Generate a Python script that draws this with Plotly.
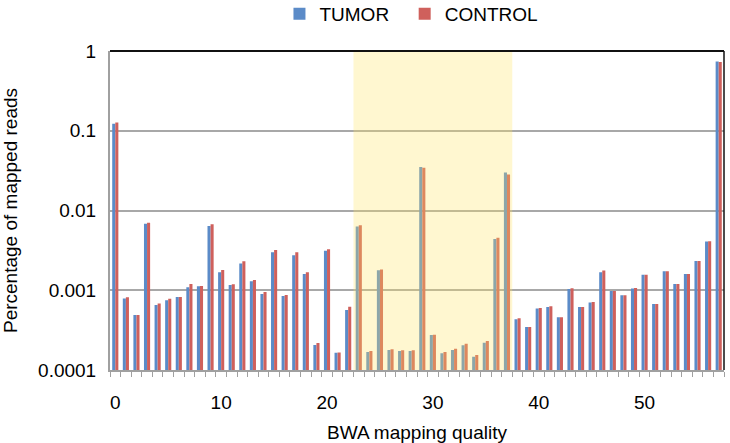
import plotly.graph_objects as go

quality = list(range(58))
tumor = [0.122, 0.000786, 0.00049, 0.0068, 0.000655, 0.00075, 0.00082, 0.00109, 0.00112, 0.0064,
         0.00168, 0.00116, 0.00216, 0.0013, 0.0009, 0.0030, 0.00085, 0.00275, 0.0016, 0.000206,
         0.00312, 0.000165, 0.000566, 0.0063, 0.000168, 0.00178, 0.000178, 0.000173, 0.000173, 0.035,
         0.000275, 0.000162, 0.000178, 0.000204, 0.000147, 0.00022, 0.0044, 0.030, 0.000432, 0.000347,
         0.00059, 0.000618, 0.000458, 0.00104, 0.000618, 0.0007, 0.00168, 0.00098, 0.000865, 0.00105,
         0.00156, 0.00067, 0.00173, 0.0012, 0.0016, 0.00233, 0.00408, 0.741]
control = [0.127, 0.000816, 0.00049, 0.0070, 0.00068, 0.00078, 0.00082, 0.0012, 0.00113, 0.0067,
           0.0018, 0.00119, 0.00231, 0.00134, 0.00095, 0.0032, 0.00087, 0.0030, 0.00168, 0.000218,
           0.00327, 0.000166, 0.000623, 0.00655, 0.000173, 0.00182, 0.000182, 0.000177, 0.000177, 0.0343,
           0.000276, 0.000168, 0.000185, 0.000214, 0.000154, 0.000231, 0.00454, 0.0283, 0.000446, 0.000347,
           0.0006, 0.00063, 0.000458, 0.00106, 0.000618, 0.000714, 0.00177, 0.00098, 0.000865, 0.00107,
           0.00157, 0.00067, 0.00173, 0.0012, 0.0016, 0.00233, 0.00412, 0.728]
x_ticks = [0, 10, 20, 30, 40, 50]
y_ticks = [0.0001, 0.001, 0.01, 0.1, 1]
y_tick_text = ["0.0001", "0.001", "0.01", "0.1", "1"]
highlight = (22.5, 37.5)

FONT = "Liberation Sans, Arial, sans-serif"

fig = go.Figure()
fig.add_trace(go.Bar(x=quality, y=tumor, name="TUMOR\u00a0\u00a0", marker=dict(color="#5B8BC8", line_width=0)))
fig.add_trace(go.Bar(x=quality, y=control, name="CONTROL", marker=dict(color="#CF605C", line_width=0)))

fig.add_shape(type="rect", xref="x", yref="paper", x0=highlight[0], x1=highlight[1], y0=0, y1=1,
              fillcolor="rgba(255,230,100,0.3)", line_width=0, layer="above")
# plot frame: top and right dark
fig.add_shape(type="line", xref="paper", yref="paper", x0=0, x1=1, y0=1, y1=1,
              line=dict(color="#111111", width=2), layer="above")
fig.add_shape(type="line", xref="paper", yref="paper", x0=1, x1=1, y0=0, y1=1,
              line=dict(color="#111111", width=1.5), layer="above")

fig.update_layout(
    width=730, height=443,
    margin=dict(l=110, r=6, t=51, b=73, autoexpand=False),
    paper_bgcolor="white", plot_bgcolor="white",
    barmode="group", bargap=0.42, bargroupgap=0,
    font=dict(family=FONT, size=19, color="#000000"),
    legend=dict(orientation="h", x=0.276, xanchor="left", y=1.116, yanchor="middle",
                font=dict(size=19), itemwidth=30),
    xaxis=dict(range=[-0.5, 57.5], tickvals=x_ticks, ticks="", showgrid=False,
               showline=True, linecolor="#A0A0A0", linewidth=2, ticklabelstandoff=14,
               minor=dict(ticks="outside", tick0=-0.5, dtick=1, ticklen=5, tickcolor="#A0A0A0", showgrid=False),
               title=dict(text="BWA mapping quality", font=dict(size=19), standoff=14),
               tickfont=dict(size=19), zeroline=False, automargin=False),
    yaxis=dict(type="log", range=[-4, 0], tickvals=y_ticks, ticktext=y_tick_text,
               showgrid=True, gridcolor="#A8A8A8", gridwidth=1.5, ticklabelstandoff=8,
               showline=True, linecolor="#A0A0A0", linewidth=2, ticks="",
               title=dict(text="Percentage of mapped reads", font=dict(size=19), standoff=18),
               tickfont=dict(size=19), zeroline=False, automargin=False),
)

fig.write_html("out.html", config={"displayModeBar": False},
               post_script="document.body.style.margin='0';")
